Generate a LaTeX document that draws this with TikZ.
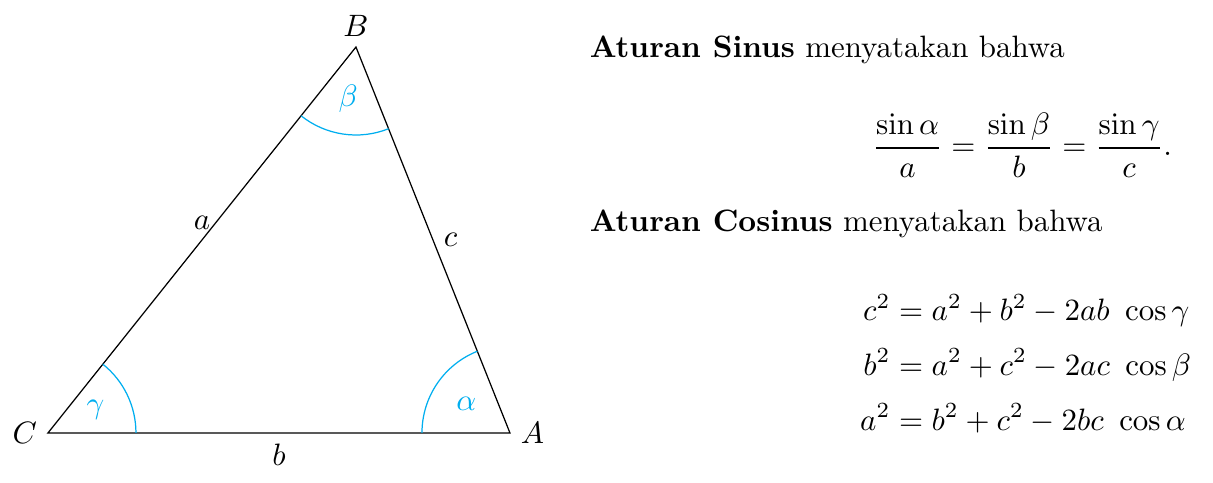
\documentclass[tikz,border=0pt]{standalone}
\usepackage{amsmath,amssymb}
\usepackage{tikz}
\usetikzlibrary{positioning,angles,quotes,calc}
\definecolor{angcyan}{RGB}{0,174,239}

\begin{document}
\begin{tikzpicture}[
  vlabel/.style={font=\normalsize},
  angmark/.style={draw=angcyan, text=angcyan, angle radius=1cm, angle eccentricity=0.6},
  txt/.style={anchor=base west, inner sep=0pt}
]
\useasboundingbox (-0.545,-0.568) rectangle (13.239,4.920);

% Vertices
\coordinate (C) at (0,0);
\coordinate (A) at (5.25,0);
\coordinate (B) at (3.5,4.386);

% Triangle
\draw (C) -- (A) -- (B) -- cycle;

% Angle marks
\pic[angmark, "$\gamma$"] {angle = A--C--B};
\pic[angmark, "$\alpha$"] {angle = B--A--C};
\pic[angmark, "$\beta$"] {angle = C--B--A};

% Vertex labels
\node[vlabel, left] (labC) at (C) {$C$};
\node[vlabel, right] (labA) at (A) {$A$};
\node[vlabel, above] (labB) at (B) {$B$};

% Side labels
\node[above] (sidea) at ($(C)!0.5!(B)$) {$a$};
\node[below] (sideb) at ($(C)!0.5!(A)$) {$b$};
\node[right] (sidec) at ($(A)!0.5!(B)$) {$c$};

% Law of sines
\node[txt] (sinus) at (6.15,4.27) {\textbf{Aturan Sinus} menyatakan bahwa};
\node (sinlaw) at (11.07,3.27)
  {$\displaystyle \frac{\sin\alpha}{a} = \frac{\sin\beta}{b} = \frac{\sin\gamma}{c}.$};

% Law of cosines
\node[txt] (cosinus) at (6.15,2.295) {\textbf{Aturan Cosinus} menyatakan bahwa};
\node (coslaw) at (11.11,0.74)
  {$\begin{aligned}
     c^2 &= a^2 + b^2 - 2ab\ \cos\gamma\\[1.5pt]
     b^2 &= a^2 + c^2 - 2ac\ \cos\beta\\[1.5pt]
     a^2 &= b^2 + c^2 - 2bc\ \cos\alpha
   \end{aligned}$};

\end{tikzpicture}
\end{document}
